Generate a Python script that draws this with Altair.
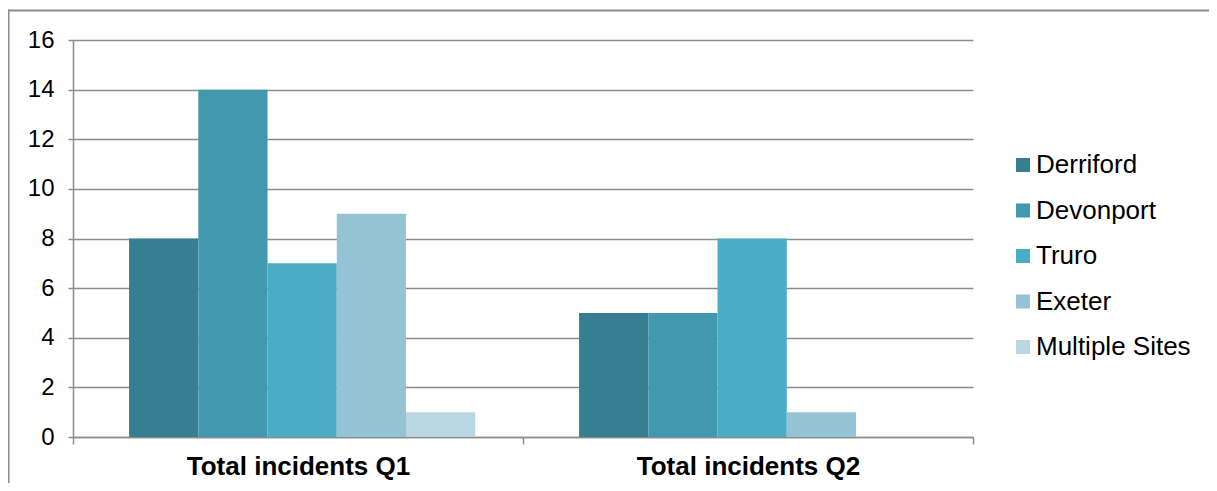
import altair as alt
import pandas as pd

categories = ["Total incidents Q1", "Total incidents Q2"]
sites = ["Derriford", "Devonport", "Truro", "Exeter", "Multiple Sites"]
q1 = [8, 14, 7, 9, 1]
q2 = [5, 5, 8, 1, 0]
colors = ["#367F93", "#4298AE", "#4BACC6", "#93C3D5", "#BAD6E2"]
y_ticks = [0, 2, 4, 6, 8, 10, 12, 14, 16]

rows = []
for s, a, b in zip(sites, q1, q2):
    rows.append({"cat": categories[0], "site": s, "value": a})
    rows.append({"cat": categories[1], "site": s, "value": b})
df = pd.DataFrame(rows)

FONT = "Liberation Sans"
GRAY = "#8c8c8c"

bars = alt.Chart(df).mark_bar().encode(
    x=alt.X("cat:N", sort=categories,
            scale=alt.Scale(domain=categories, paddingInner=0, paddingOuter=0),
            axis=alt.Axis(title=None, labelAngle=0, tickBand="extent", labelLimit=0,
                          labelFont=FONT, labelFontSize=26, labelFontWeight="bold",
                          labelColor="black", labelPadding=9,
                          domainColor=GRAY, domainWidth=1.5,
                          tickColor=GRAY, tickWidth=1.5, tickSize=7, grid=False)),
    xOffset=alt.XOffset("site:N", sort=sites,
                        scale=alt.Scale(domain=sites, paddingOuter=0.75, paddingInner=0,
                                        align=0.54)),
    y=alt.Y("value:Q", scale=alt.Scale(domain=[0, 16], nice=False),
            axis=alt.Axis(title=None, values=y_ticks, labelFont=FONT, labelFontSize=24,
                          labelColor="black", labelPadding=14,
                          domainColor=GRAY, domainWidth=1.5,
                          tickColor=GRAY, tickWidth=1.5, tickSize=5,
                          grid=True, gridColor=GRAY, gridWidth=1.5)),
    color=alt.Color("site:N", sort=sites,
                    scale=alt.Scale(domain=sites, range=colors),
                    legend=alt.Legend(title=None, orient="none", legendX=937, legendY=112,
                                      symbolType="square", symbolSize=196,
                                      symbolStrokeWidth=0, labelFont=FONT,
                                      labelFontSize=26, labelColor="black",
                                      labelOffset=0, rowPadding=19.5, labelLimit=0)),
)

one = pd.DataFrame({"a": [0]})
top_line = alt.Chart(one).mark_rule(color=GRAY, strokeWidth=2).encode(
    x=alt.value(-66), x2=alt.value(1140), y=alt.value(-29.5), y2=alt.value(-29.5))
left_line = alt.Chart(one).mark_rule(color=GRAY, strokeWidth=2).encode(
    x=alt.value(-64.5), x2=alt.value(-64.5), y=alt.value(-30.5), y2=alt.value(470))

chart = alt.layer(top_line, left_line, bars).properties(
    width=900, height=397,
    padding={"left": 65, "top": 32, "right": 236, "bottom": 46},
    autosize=alt.AutoSizeParams(type="none"),
).configure_view(stroke=None)

chart.save("out.html", embed_options={"renderer": "svg", "actions": False})
